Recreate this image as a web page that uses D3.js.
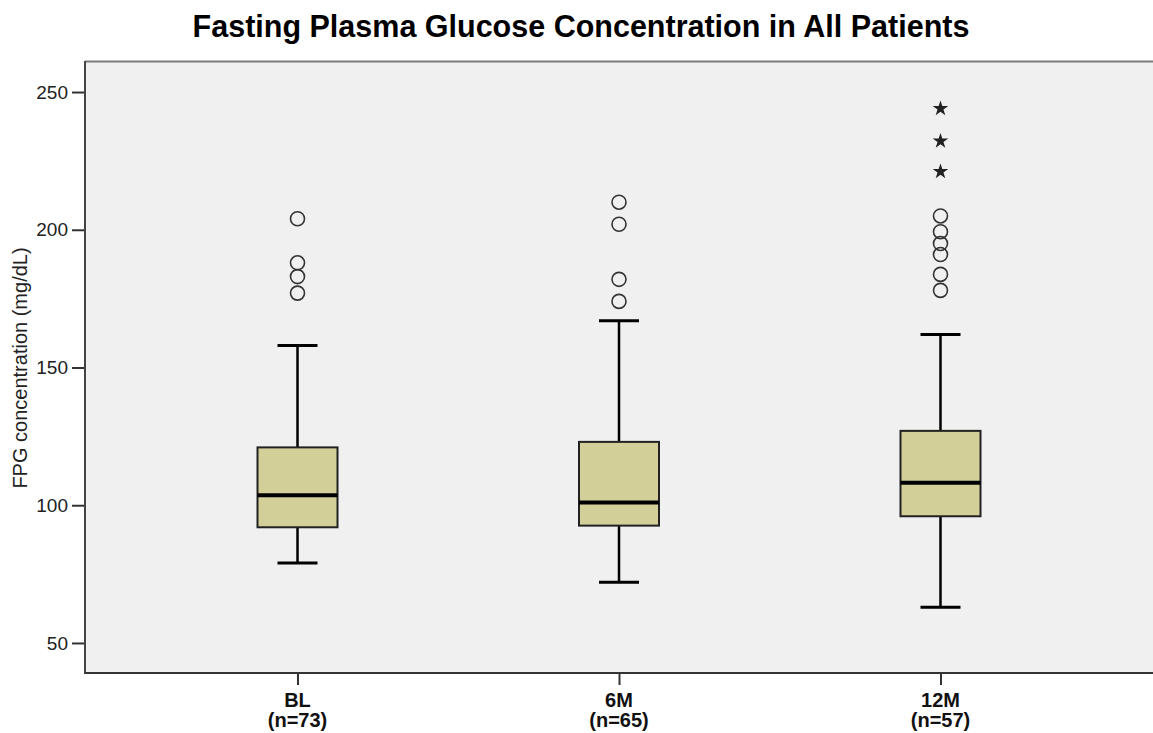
<!DOCTYPE html>
<html>
<head>
<meta charset="utf-8">
<script src="https://cdn.jsdelivr.net/npm/d3@7"></script>
<style>
  html, body { margin: 0; padding: 0; background: #fff; }
  svg { display: block; }
  text { font-family: "Liberation Sans", Arial, sans-serif; }
</style>
</head>
<body>
<svg id="chart" width="1153" height="733"></svg>
<script>
// Groups and their sample sizes
const groups = ["BL", "6M", "12M"];
const groupN = [73, 65, 57];

// Five-number summaries (mg/dL)
const whiskerLow  = [79, 72, 63];
const q1          = [92, 92.6, 96];
const medians     = [103.6, 101, 108.2];
const q3          = [121, 123, 127];
const whiskerHigh = [158, 167, 162];

// Outliers (circles) and extreme values (stars)
const outliersBL  = [204, 188, 183, 177];
const outliers6M  = [210, 202, 182, 174];
const outliers12M = [205, 199.3, 195, 191, 183.8, 178];
const extremes12M = [244, 232.2, 221.1];

const yTicks = [50, 100, 150, 200, 250];

const title = "Fasting Plasma Glucose Concentration in All Patients";
const yLabel = "FPG concentration (mg/dL)";

const svg = d3.select("#chart");
const plot = { left: 85, right: 1153, top: 62, bottom: 673 };

const y = d3.scaleLinear().domain([39.1, 260.9]).range([plot.bottom, plot.top]);
const x = d3.scalePoint().domain(groups).range([85, 1153]).padding(0.661);

const boxW = 80, capW = 40;

// Title
svg.append("text")
  .attr("x", 581).attr("y", 37)
  .attr("text-anchor", "middle")
  .attr("font-weight", "bold")
  .attr("font-size", 30.5)
  .attr("fill", "#000")
  .text(title);

// Plot background
svg.append("rect")
  .attr("x", plot.left).attr("y", plot.top)
  .attr("width", plot.right - plot.left).attr("height", plot.bottom - plot.top)
  .attr("fill", "#f0f0f0");

// Top frame line
svg.append("line")
  .attr("x1", plot.left).attr("x2", plot.right)
  .attr("y1", plot.top - 0.5).attr("y2", plot.top - 0.5)
  .attr("stroke", "#7a7a7a").attr("stroke-width", 2);

// Y axis
const yAxis = d3.axisLeft(y).tickValues(yTicks).tickSize(13).tickPadding(4);
const gy = svg.append("g").attr("transform", `translate(${plot.left},0)`).call(yAxis);
gy.select(".domain").remove();
gy.selectAll(".tick line").attr("stroke", "#333").attr("stroke-width", 2);
gy.selectAll(".tick text")
  .attr("font-size", 19).attr("fill", "#222")
  .style("font-family", "'Liberation Sans', Arial, sans-serif");
svg.append("line")
  .attr("x1", plot.left).attr("x2", plot.left)
  .attr("y1", plot.top - 1).attr("y2", plot.bottom + 1)
  .attr("stroke", "#444").attr("stroke-width", 2);

// Y label
svg.append("text")
  .attr("transform", "translate(27,368) rotate(-90)")
  .attr("text-anchor", "middle")
  .attr("font-size", 20)
  .attr("fill", "#222")
  .text(yLabel);

// X axis
const xAxis = d3.axisBottom(x).tickSize(12).tickFormat("");
const gx = svg.append("g").attr("transform", `translate(0,${plot.bottom})`).call(xAxis);
gx.select(".domain").remove();
gx.selectAll(".tick line").attr("stroke", "#333").attr("stroke-width", 2);
svg.append("line")
  .attr("x1", plot.left).attr("x2", plot.right)
  .attr("y1", plot.bottom).attr("y2", plot.bottom)
  .attr("stroke", "#333").attr("stroke-width", 2);

// Category labels
groups.forEach((g, i) => {
  const t = svg.append("text")
    .attr("x", x(g)).attr("text-anchor", "middle")
    .attr("font-weight", "bold").attr("font-size", 20).attr("fill", "#111");
  t.append("tspan").attr("x", x(g)).attr("y", 707).text(g);
  t.append("tspan").attr("x", x(g)).attr("y", 727).text(`(n=${groupN[i]})`);
});

// Boxes
const outliers = [outliersBL, outliers6M, outliers12M];
const extremes = [[], [], extremes12M];

groups.forEach((g, i) => {
  const cx = x(g);
  const gg = svg.append("g");
  // whisker stem
  gg.append("line")
    .attr("x1", cx).attr("x2", cx)
    .attr("y1", y(whiskerHigh[i])).attr("y2", y(whiskerLow[i]))
    .attr("stroke", "#000").attr("stroke-width", 2.5);
  // caps
  [whiskerHigh[i], whiskerLow[i]].forEach(v => {
    gg.append("line")
      .attr("x1", cx - capW / 2).attr("x2", cx + capW / 2)
      .attr("y1", y(v)).attr("y2", y(v))
      .attr("stroke", "#000").attr("stroke-width", 3);
  });
  // box
  gg.append("rect")
    .attr("x", cx - boxW / 2).attr("width", boxW)
    .attr("y", y(q3[i])).attr("height", y(q1[i]) - y(q3[i]))
    .attr("fill", "#d3cf98").attr("stroke", "#222").attr("stroke-width", 2);
  // median
  gg.append("line")
    .attr("x1", cx - boxW / 2).attr("x2", cx + boxW / 2)
    .attr("y1", y(medians[i])).attr("y2", y(medians[i]))
    .attr("stroke", "#000").attr("stroke-width", 4);
  // outliers
  gg.selectAll("circle.out").data(outliers[i]).join("circle")
    .attr("class", "out")
    .attr("cx", cx).attr("cy", d => y(d)).attr("r", 7)
    .attr("fill", "none").attr("stroke", "#333").attr("stroke-width", 1.6);
  // extremes
  gg.selectAll("path.ext").data(extremes[i]).join("path")
    .attr("class", "ext")
    .attr("transform", d => `translate(${cx},${y(d)})`)
    .attr("d", d3.symbol(d3.symbolStar, 75))
    .attr("fill", "#222");
});
</script>
</body>
</html>
